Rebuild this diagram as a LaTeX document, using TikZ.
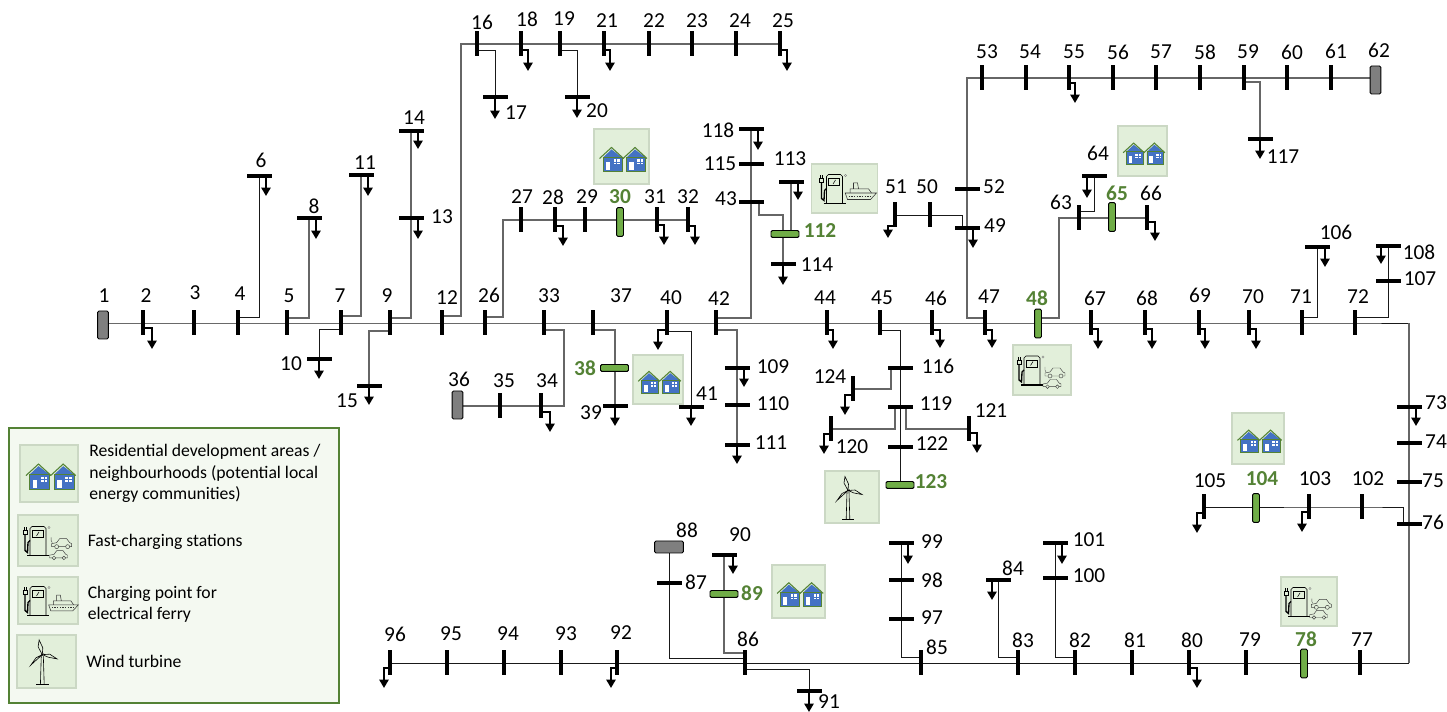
\documentclass[tikz,border=0pt]{standalone}
\usepackage{fontspec}
\setmainfont{Carlito}
\usetikzlibrary{arrows.meta, backgrounds}
\definecolor{busgreen}{HTML}{70AD47}
\definecolor{txtgreen}{HTML}{548235}
\definecolor{busgrey}{HTML}{7F7F7F}
\definecolor{panelfill}{HTML}{E2EFDA}
\definecolor{panelline}{HTML}{CBD8C4}
\definecolor{legfill}{HTML}{F4F9F1}
\definecolor{houseblue}{HTML}{4472C4}
\tikzset{
	feeder/.style={draw=black!60, line width=.85pt},
	feederk/.style={draw=black!90, line width=.7pt},
	vbus/.style={fill=black, inner sep=0, minimum width=2.3pt, minimum height=18.75pt},
	hbus/.style={fill=black, inner sep=0, minimum width=18.75pt, minimum height=2.3pt},
	gvbus/.style={draw=black, fill=busgreen, rounded corners=1pt, line width=.7pt, inner sep=0, minimum width=5.2pt, minimum height=21.5pt},
	ghbus/.style={draw=black, fill=busgreen, rounded corners=1pt, line width=.7pt, inner sep=0, minimum width=21pt, minimum height=5.2pt},
	slack/.style={draw=black, fill=busgrey, rounded corners=1pt, line width=.7pt, inner sep=0},
	loadline/.style={line width=1.45pt, -{Triangle[width=6.8pt,length=6.2pt]}},
	lbl/.style={inner sep=0, font=\fontsize{16}{18}\selectfont},
	glbl/.style={lbl, text=txtgreen, font=\fontsize{16}{18}\selectfont\bfseries},
	legtxt/.style={inner sep=0, anchor=west, align=left, font=\fontsize{13.25}{15.9}\selectfont},
	panel/.style={fill=panelfill, draw=panelline, line width=.9pt, inner sep=0},
	houses/.pic={
		\foreach \o in {0,23.5}{
			\begin{scope}[shift={(\o,0)}]
				\fill[houseblue] (-18.5,1) -- (-10,-7) -- (.5,1) -- (.5,15) -- (-18.5,15) -- cycle;
				\draw[txtgreen, line width=.6pt] (-18.5,1) rectangle (.5,15);
				\draw[txtgreen, line width=.8pt] (-22,2) -- (-10,-9) -- (2,2);
				\fill[white] (-15.7,6) rectangle (-11.5,13.5);
				\fill[white] (-8,3) rectangle (-2,8);
				\draw[houseblue, line width=.3pt] (-5,3) -- (-5,8) (-8,5.5) -- (-2,5.5);
			\end{scope}
		}
	},
	pump/.pic={
		\draw[line width=.5pt] (-18,15) -- (-18,-12) -- (-16,-14) -- (-4,-14) -- (-2,-12) -- (-2,15);
		\draw[line width=.5pt] (-16,-10) rectangle (-5,-3);
		\draw[line width=.4pt] (-11.5,-4.5) -- (-9,-8.5);
		\draw[line width=.8pt] (-21,15) -- (1,15);
		\draw[line width=.6pt] (-25,-10) rectangle (-21,-6);
		\draw[line width=.5pt] (-24,-13) -- (-24,-10) (-22,-13) -- (-22,-10);
		\draw[line width=1pt] (-23,-6) -- (-23,10) -- (-20.5,12) -- (-20,2) -- (-18,0);
		\draw[black!50, line width=.3pt] (1,-13) circle (1.2);
	},
	car/.pic={
		\draw[line width=.35pt, black!75] (-10,3) -- (-10,0) -- (-5,-1) -- (-2,-5) -- (5,-5) -- (8,-1) -- (10,0) -- (10,3) -- cycle;
		\draw[line width=.35pt, black!75, fill=panelfill] (-5,3) circle (2) (6,3) circle (2);
	},
	evcharge/.pic={
		\pic at (0,0) {pump};
		\pic at (13,3) {car};
		\pic[scale=.9] at (10,14) {car};
		\draw[line width=.3pt, black!70] (3,-3) -- (3,0) -- (4,2);
	},
	ferry/.pic={
		\pic at (0,0) {pump};
		\draw[line width=.4pt, black!80] (.7,4.5) -- (32,4.5) -- (26,11) -- (3,11) -- cycle;
		\draw[line width=.4pt, black!80] (5.7,4.5) -- (5.7,.3) -- (24,.3) -- (27,4.5);
		\draw[line width=.4pt, black!80] (9,.3) -- (9,-5.7) -- (13,-5.7) -- (14,.3);
		\draw[line width=.7pt, black!80, dash pattern=on 1pt off 1pt] (4,7.5) -- (27,7.5);
	},
	turbine/.pic={
		\draw[line width=.45pt] (-5,-5) -- (-5.8,22) (-3,-5) -- (-2.2,22);
		\draw[line width=.6pt] (-10,22) -- (2,22);
		\draw[line width=.45pt, fill=panelfill] (-4,-6.5) -- (-8,-14) -- (-7,-20.5) -- (-3.5,-13) -- cycle;
		\draw[line width=.45pt, fill=panelfill] (-4,-6.5) -- (3,-7) -- (10,-2.5) -- (2,-4) -- cycle;
		\draw[line width=.45pt, fill=panelfill] (-4,-6.5) -- (-9,-2) -- (-15,3.5) -- (-10,-3.5) -- cycle;
		\fill (-4,-6.5) circle (1);
	}
}
\begin{document}
\begin{tikzpicture}[x=.75pt, y=-.75pt]
	\useasboundingbox (0,0) rectangle (1447,712);
	\node[draw=txtgreen, fill=legfill, line width=1.1pt, inner sep=0, minimum width=247.5pt, minimum height=206.25pt] (legend) at (174,565.5) {};

	\foreach \n/\x/\y/\w/\h/\s in {h1/621.5/156.5/55/55/1, h2/1142.5/151/49/50/.88, h3/658/379.5/50/49/.9, h4/1258/438.5/52/51/.93, h5/798.5/591.5/53/53/.97, h6/49/473.5/58/57/1.05}{
		\node[panel, minimum width=\w*.75pt, minimum height=\h*.75pt] (\n) at (\x,\y) {};
		\pic[scale=\s] at (\n) {houses};
	}
	\foreach \n/\x/\y/\w/\h/\s in {e1/1042/370/58/50/1, e2/1309/601.5/56/49/.95, e3/48/540.5/60/51/1.05}{
		\node[panel, minimum width=\w*.75pt, minimum height=\h*.75pt] (\n) at (\x,\y) {};
		\pic[scale=\s] at (\n) {evcharge};
	}
	\foreach \n/\x/\y/\w/\h/\s in {f1/844.5/188.5/66/49/1, f2/48/600.5/60/47/.95}{
		\node[panel, minimum width=\w*.75pt, minimum height=\h*.75pt] (\n) at (\x,\y) {};
		\pic[scale=\s] at (\n) {ferry};
	}
	\foreach \n/\x/\y/\w/\h/\s in {w1/852/497/54/52/1, w2/46.5/661.5/59/53/1.05}{
		\node[panel, minimum width=\w*.75pt, minimum height=\h*.75pt] (\n) at (\x,\y) {};
		\pic[scale=\s] at (\n) {turbine};
	}

	\node[legtxt] (leg1) at (89,473.5) {Residential development areas /\\neighbourhoods (potential local\\energy communities)};
	\node[legtxt] (leg2) at (87.5,542) {Fast-charging stations};
	\node[legtxt] (leg3) at (87.5,604) {Charging point for\\electrical ferry};
	\node[legtxt] (leg4) at (86,661) {Wind turbine};

	\foreach \n/\x/\y in {2/143/323, 3/194/323, 4/238/323, 5/287/323, 7/341/323, 9/390/323, 12/442/323, 26/485/323, 33/544/323, 37/593/323, 40/667/323, 42/716/323, 44/827/323, 45/880/323, 46/932/323, 47/985/323, 67/1091/323, 68/1145/323, 69/1199/323, 70/1249/323, 71/1302/323, 72/1355/323,
		16/477/44, 18/521/44, 19/560/44, 21/604/44, 22/649/44, 23/692/44, 24/736/44, 25/780/44,
		53/982/78, 54/1026/78, 55/1069/78, 56/1113/78, 57/1156/78, 58/1200/78, 59/1244/78, 60/1287/78, 61/1331/78,
		27/521/220, 28/555/220, 29/585/220, 31/657/220, 32/688/220,
		63/1079/218, 66/1147/218, 51/895/215, 50/930/215,
		35/500/406, 34/541/406, 124/853/389, 120/831/429, 121/969/429,
		105/1204/507, 103/1309/507, 102/1362/507,
		96/390/663, 95/447/663, 94/504/663, 93/561/663, 92/617/663, 86/745/663, 85/921/663, 83/1018/663, 82/1075/663, 81/1132/663, 80/1189/663, 79/1246/663, 77/1360/663}{
		\node[vbus] (b\n) at (\x,\y) {};
	}
	\foreach \n/\x/\y in {6/259/176, 8/309/218, 11/361/175, 14/411/131, 13/411/218, 10/319/359, 15/369/386, 17/495/97, 20/577/97,
		39/615/406, 41/691/407, 109/737/368, 110/737/405, 111/737/445, 118/751/129, 115/751/164, 43/751/202, 113/791/182, 114/783/264,
		116/900/368, 119/900/407, 122/900/447, 52/967/189, 49/967/228, 117/1260/139, 64/1094/176, 106/1317/247, 108/1388/246, 107/1388/281,
		73/1409/407, 74/1409/443, 75/1409/482, 76/1409/524, 99/901/543, 98/901/580, 97/901/619, 84/998/580, 100/1055/578, 101/1055/543,
		87/669/583, 90/724/555, 91/809/691}{
		\node[hbus] (b\n) at (\x,\y) {};
	}
	\foreach \n/\x/\y in {30/620/222, 48/1038/323.5, 65/1112/217, 104/1256/508, 78/1304/663.5}{
		\node[gvbus] (b\n) at (\x,\y) {};
	}
	\foreach \n/\x/\y in {38/614.5/368, 112/785/234, 123/900/485, 89/724/594}{
		\node[ghbus] (b\n) at (\x,\y) {};
	}
	\node[slack, minimum width=8pt, minimum height=21pt] (b1) at (103,325) {};
	\node[slack, minimum width=8pt, minimum height=21pt] (b36) at (457.5,405) {};
	\node[slack, minimum width=8pt, minimum height=21pt] (b62) at (1375.5,80) {};
	\node[slack, minimum width=21.5pt, minimum height=9pt] (b88) at (669,547) {};

	\begin{pgfonlayer}{background}
	\draw[feederk] (b1.center |- b2.center) -- (b72.center) -- (b72.center -| b73.center);
	\draw[feeder] (b72.center -| b73.center) -- (b76.center) -- (b76.center |- b77.center);
	\draw[feederk] (b76.center |- b77.center) -- (b96.center);
	\foreach \a/\yh/\c/\st in {4/317/6/feederk, 5/318/8/feeder, 7/316/11/feeder, 9/318/14/feeder, 7/329/10/feederk, 9/331/15/feeder, 16/50/17/feederk, 19/50/20/feederk, 37/330/39/feeder, 40/331/41/feederk, 42/330/111/feeder, 42/318/118/feeder, 45/330/123/feederk, 59/82/117/feeder, 63/211/64/feederk, 71/317/106/feederk, 72/317/108/feederk, 86/669/91/feederk}{
		\draw[\st] (b\a.center |- 0,\yh) -| (b\c.center);
	}
	\draw[feeder] (b12.center |- 0,316) -- (461,316) |- (b16.center) -- (b25.center);
	\draw[feeder] (b26.center |- 0,317) -- (503,317) |- (b27.center) -- (b32.center);
	\draw[feeder] (b33.center |- 0,330) -- (564,330) |- (b34.center) -- (b36.center |- b34.center);
	\draw[feeder] (b47.center |- 0,318) -| (b52.center) |- (b53.center) -- (b53.center -| b62.center);
	\draw[feeder] (b48.center |- 0,318) -- (1059,318) |- (b63.center) -- (b66.center);
	\draw[feederk] (b51.center) -| ([shift={(-5,0)}]b49.center);
	\draw[feeder] ([shift={(8,0)}]b43.center) |- ([shift={(0,-19)}]b112.center -| b114.center) -- (b114.center);
	\draw[feeder] (b113.center) -- (b113.center |- b112.center);
	\draw[feeder] ([shift={(-9,0)}]b116.center) |- (b124.center);
	\draw[feeder] ([shift={(-5,0)}]b119.center) |- (b120.center);
	\draw[feeder] ([shift={(6,0)}]b119.center) |- (b121.center);
	\draw[feederk] ([shift={(-6,0)}]b76.center) |- (b102.center) -- (b105.center);
	\draw[feederk] (b88.center) |- (b86.center |- 0,658);
	\draw[feeder] (b90.center) |- (b86.center |- 0,653);
	\draw[feederk] (b99.center) |- (b85.center |- 0,657);
	\draw[feederk] (b84.center) |- (b83.center |- 0,657);
	\draw[feederk] (b101.center) |- (b82.center |- 0,657);
	\end{pgfonlayer}

	\foreach \n/\yh/\xt/\yt in {2/328/152/349, 6/176/266/196, 8/218/316/239, 11/175/368/196, 13/218/418/239, 14/131/418/149, 10/359/319/379, 15/386/369/405, 17/97/495/119, 20/97/577/118, 18/50/528/71, 21/50/610/71, 25/50/787/71,
		28/226/563/246, 31/225/664/245, 32/226/695/245, 34/412/550/432, 39/406/615/426, 40/330/658/350, 41/407/691/426, 109/368/744/387, 111/445/737/464, 118/129/758/150, 113/182/798/200, 114/264/783/285,
		44/330/833/349, 46/330/940/348, 47/330/992/348, 124/395/845/415, 120/434/824/454, 121/433/977/453, 51/226/888/238, 49/228/973/248, 55/83/1075/103, 117/139/1260/159, 64/176/1087/198, 66/222/1155/241,
		67/329/1098/349, 68/329/1152/349, 69/329/1205/349, 70/329/1256/349, 106/247/1325/267, 108/246/1381/264, 73/407/1416/426, 105/513/1197/533, 103/512/1302/532,
		99/543/908/564, 101/543/1062/564, 84/580/992/600, 90/555/733/574, 91/691/809/712, 96/668/384/688, 92/668/611/688, 80/668/1197/688}{
		\coordinate (t\n) at (\xt,\yt);
		\draw[loadline] (b\n.center |- 0,\yh) -| (t\n);
	}

	\foreach \n/\x/\y in {1/104/296, 2/146/296, 3/195/293, 4/240/294, 5/289/296, 7/340/296, 9/387/296, 12/447/298, 26/489/295, 33/549/296, 37/621/296, 40/671/298, 42/719/299, 44/825/298, 45/882/298, 46/936/298, 47/989/297, 67/1095/298, 68/1147/298, 69/1200/295, 70/1253/297, 71/1301/297, 72/1358/297,
		16/482/22, 18/527/19, 19/564/19, 21/607/21, 22/654/21, 23/697/21, 24/740/21, 25/783/21,
		53/987/52, 54/1030/52, 55/1074/52, 56/1118/52, 57/1161/52, 58/1205/52, 59/1248/52, 60/1292/52, 61/1336/51, 62/1379/50,
		6/261/160, 8/314/206, 11/365/163, 14/414/118, 13/442/217, 10/291/364, 15/347/401, 17/516/113, 20/597/111,
		27/522/197, 28/553/197, 29/587/197, 31/655/197, 32/688/197, 36/459/379, 35/504/381, 34/547/381, 39/591/413, 41/707/394,
		109/773/367, 110/773/404, 111/771/443, 118/718/130, 115/720/164, 43/726/199, 113/790/159, 114/817/265,
		116/938/366, 124/830/377, 119/936/404, 120/852/447, 122/932/444, 121/991/411, 51/896/187, 50/927/187, 52/994/187, 49/995/226,
		117/1283/157, 64/1098/153, 63/1061/202, 66/1151/193, 106/1336/232, 108/1419/252, 107/1420/279,
		73/1436/403, 74/1436/442, 75/1433/481, 76/1433/522, 105/1210/481, 103/1315/479, 102/1368/479,
		99/932/542, 98/932/580, 97/932/618, 84/1013/568, 101/1089/540, 100/1089/576, 88/687/530, 90/740/535, 87/696/582, 86/748/639, 91/829/702,
		96/395/634, 95/451/634, 94/508/634, 93/566/634, 92/621/633, 85/937/647, 83/1023/640, 82/1080/640, 81/1135/640, 80/1192/640, 79/1250/640, 77/1362/640}{
		\node[lbl] (l\n) at (\x,\y) {\n};
	}
	\foreach \n/\x/\y in {30/620/197, 48/1037/298, 65/1117/193, 38/585/368, 112/820/231, 123/931/482, 89/752/593, 104/1262/479, 78/1306/639}{
		\node[glbl] (l\n) at (\x,\y) {\n};
	}
\end{tikzpicture}
\end{document}
